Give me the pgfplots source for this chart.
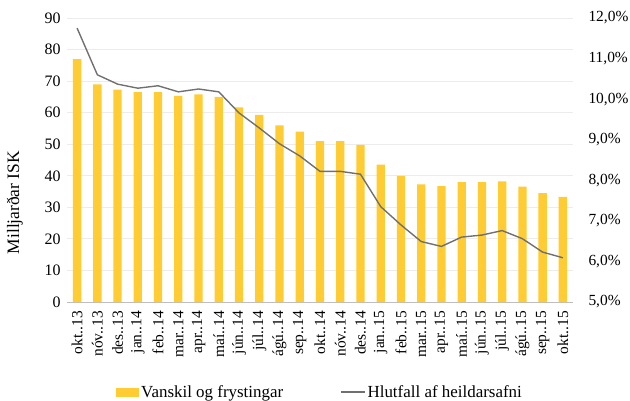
\documentclass[border=0pt]{standalone}
\usepackage{pgfplots}
\pgfplotsset{compat=1.18}
\usepackage{fontspec}
\setmainfont{Liberation Serif}
\definecolor{barc}{RGB}{255,204,51}
\definecolor{linec}{RGB}{112,112,112}
\definecolor{gridc}{RGB}{236,236,236}
\definecolor{axc}{RGB}{190,190,190}
\begin{document}
\begin{tikzpicture}
\pgfplotsset{every axis/.append style={font=\fontsize{17}{20}\selectfont},
  /pgf/number format/assume math mode=true}
\useasboundingbox (-67bp,-99bp) rectangle (563bp,302bp);
\begin{axis}[
  at={(0,0)}, anchor=south west,
  scale only axis, width=506bp, height=284bp,
  xmin=-0.5, xmax=24.5, ymin=0, ymax=90,
  ytick={0,10,...,90},
  yticklabel style={xshift=-3bp, font=\fontsize{16}{18}\selectfont},
  xtick={0,...,24},
  xticklabels={okt..13,nóv..13,des..13,jan..14,feb..14,mar..14,apr..14,maí..14,jún..14,júl..14,ágú..14,sep..14,okt..14,nóv..14,des..14,jan..15,feb..15,mar..15,apr..15,maí..15,jún..15,júl..15,ágú..15,sep..15,okt..15},
  xticklabel style={rotate=90, anchor=east, inner sep=2pt, font=\fontsize{15.5}{18}\selectfont},
  xticklabel shift=7bp,
  axis x line*=bottom, axis y line*=left,
  x axis line style={draw=axc, line width=0.8pt, -},
  y axis line style={draw=none},
  tick style={draw=none},
  ymajorgrids, grid style={draw=gridc, line width=0.8pt},
  ylabel={Milljarðar ISK},
  ylabel style={at={(axis description cs:-0.103,0.35)}, anchor=center, font=\fontsize{17.5}{20}\selectfont},
  legend columns=2,
  legend style={at={(axis description cs:0.5,-0.317)}, anchor=center, draw=none, fill=none,
    /tikz/every even column/.append style={column sep=55bp}},
]
\addplot[ybar, bar width=8.3bp, fill=barc, draw=none,
  legend image code/.code={\fill[barc] (0bp,-4.5bp) rectangle (23bp,4.5bp);}]
  coordinates {(0,77) (1,69) (2,67.3) (3,66.5) (4,66.5) (5,65.3) (6,65.8) (7,65) (8,61.7) (9,59.3) (10,56) (11,54) (12,51) (13,51) (14,49.8) (15,43.5) (16,40) (17,37.3) (18,36.7) (19,38) (20,38) (21,38.2) (22,36.6) (23,34.5) (24,33.3)};
\addlegendentry{Vanskil og frystingar}
\addlegendimage{legend image code/.code={\draw[linec, line width=1.4pt] (0bp,0bp) -- (24bp,0bp);}}
\addlegendentry{Hlutfall af heildarsafni}
\end{axis}
\begin{axis}[
  at={(0,0)}, anchor=south west,
  scale only axis, width=506bp, height=284bp,
  xmin=-0.5, xmax=24.5, ymin=5, ymax=12,
  axis x line=none, axis y line*=right,
  y axis line style={draw=none},
  tick style={draw=none},
  ytick={5,6,...,12},
  yticklabel style={xshift=12bp, font=\fontsize{15.5}{18}\selectfont},
  yticklabels={{5,0\%},{6,0\%},{7,0\%},{8,0\%},{9,0\%},{10,0\%},{11,0\%},{12,0\%}},
]
\addplot[linec, line width=1.4pt, mark=none]
  coordinates {(0,11.75) (1,10.6) (2,10.37) (3,10.27) (4,10.33) (5,10.18) (6,10.25) (7,10.18) (8,9.66) (9,9.29) (10,8.9) (11,8.6) (12,8.22) (13,8.22) (14,8.15) (15,7.35) (16,6.9) (17,6.49) (18,6.37) (19,6.6) (20,6.65) (21,6.76) (22,6.56) (23,6.23) (24,6.09)};
\end{axis}
\end{tikzpicture}
\end{document}
